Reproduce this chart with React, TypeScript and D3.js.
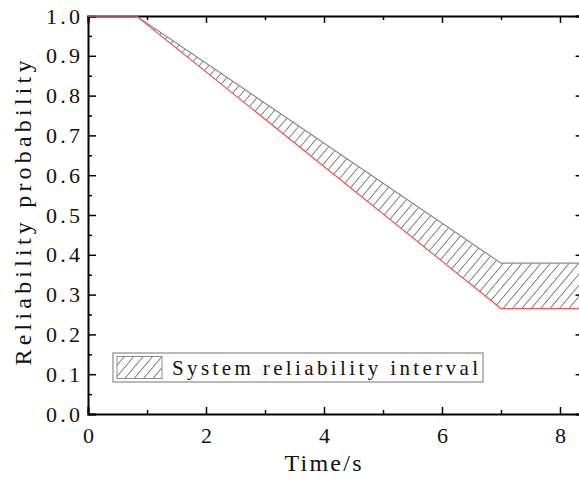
import React, { useEffect, useRef } from "react";
import * as d3 from "d3";

// reliability band
const timePoints = [0, 0.82, 7, 8.4];
const upperBound = [1, 1, 0.379, 0.379];
const lowerBound = [1, 1, 0.265, 0.265];

const xTicks = [0, 2, 4, 6, 8];
const xMinorTicks = [1, 3, 5, 7];
const yTicks = [0, 0.1, 0.2, 0.3, 0.4, 0.5, 0.6, 0.7, 0.8, 0.9, 1.0];
const yMinorTicks = [0.05, 0.15, 0.25, 0.35, 0.45, 0.55, 0.65, 0.75, 0.85, 0.95];
const legendLabel = "System reliability interval";

const width = 579;
const height = 479;
const font = "Liberation Serif, DejaVu Serif, serif";

export default function App() {
  const ref = useRef<SVGSVGElement>(null);

  useEffect(() => {
    const svg = d3.select(ref.current);
    svg.selectAll("*").remove();

    const x = d3.scaleLinear().domain([0, 8.4]).range([88, 583.6]);
    const y = d3.scaleLinear().domain([0, 1]).range([414, 16]);

    const defs = svg.append("defs");
    const pat = defs
      .append("pattern")
      .attr("id", "hatch")
      .attr("patternUnits", "userSpaceOnUse")
      .attr("width", 7.2)
      .attr("height", 10)
      .attr("patternTransform", "rotate(40)");
    pat
      .append("line")
      .attr("x1", 0)
      .attr("y1", 0)
      .attr("x2", 0)
      .attr("y2", 10)
      .attr("stroke", "#333")
      .attr("stroke-width", 1.2);

    svg.append("rect").attr("width", width).attr("height", height).attr("fill", "#fff");

    // hatched band
    const idx = d3.range(timePoints.length);
    const area = d3
      .area<number>()
      .x((i) => x(timePoints[i]))
      .y0((i) => y(lowerBound[i]))
      .y1((i) => y(upperBound[i]));
    svg.append("path").datum(idx).attr("d", area).attr("fill", "url(#hatch)");

    // axes (ticks pointing inward)
    const axisG = svg.append("g");
    const styleAxis = (g: any) => {
      g.selectAll(".domain").attr("stroke", "#000").attr("stroke-width", 2);
      g.selectAll(".tick line").attr("stroke", "#000").attr("stroke-width", 1.5);
      g.selectAll("text")
        .attr("font-family", font)
        .attr("font-size", 22)
        .attr("fill", "#111");
    };

    const bottom = axisG.append("g").attr("transform", `translate(0,${y(0)})`);
    bottom.call(d3.axisBottom(x).tickValues(xTicks).tickSize(-7).tickPadding(13).tickFormat(d3.format("d")));
    bottom
      .append("g")
      .call(d3.axisBottom(x).tickValues(xMinorTicks).tickSize(-4).tickFormat(() => ""))
      .call((g: any) => g.select(".domain").remove());
    styleAxis(bottom);

    const top = axisG.append("g").attr("transform", `translate(0,${y(1)})`);
    top.call(d3.axisTop(x).tickValues(xTicks).tickSize(-7).tickFormat(() => ""));
    top
      .append("g")
      .call(d3.axisTop(x).tickValues(xMinorTicks).tickSize(-4).tickFormat(() => ""))
      .call((g: any) => g.select(".domain").remove());
    styleAxis(top);

    const left = axisG.append("g").attr("transform", `translate(${x(0)},0)`);
    left.call(d3.axisLeft(y).tickValues(yTicks).tickSize(-8).tickPadding(8).tickFormat(d3.format(".1f")));
    left
      .append("g")
      .call(d3.axisLeft(y).tickValues(yMinorTicks).tickSize(-4).tickFormat(() => ""))
      .call((g: any) => g.select(".domain").remove());
    styleAxis(left);
    left.selectAll("text").attr("textLength", 34).attr("lengthAdjust", "spacing");

    const right = axisG.append("g").attr("transform", `translate(${x(8.4)},0)`);
    right.call(d3.axisRight(y).tickValues(yTicks).tickSize(-8).tickFormat(() => ""));
    right
      .append("g")
      .call(d3.axisRight(y).tickValues(yMinorTicks).tickSize(-4).tickFormat(() => ""))
      .call((g: any) => g.select(".domain").remove());
    styleAxis(right);

    // bounds
    const upperLine = d3
      .line<number>()
      .x((i) => x(timePoints[i]))
      .y((i) => y(upperBound[i]));
    const lowerLine = d3
      .line<number>()
      .x((i) => x(timePoints[i]))
      .y((i) => y(lowerBound[i]));
    svg
      .append("path")
      .datum(idx)
      .attr("d", upperLine)
      .attr("fill", "none")
      .attr("stroke", "#8a8a96")
      .attr("stroke-width", 1.2);
    svg
      .append("path")
      .datum(idx)
      .attr("d", lowerLine)
      .attr("fill", "none")
      .attr("stroke", "#ee5a5a")
      .attr("stroke-width", 1.2);

    // axis titles
    svg
      .append("text")
      .attr("x", 323)
      .attr("y", 471)
      .attr("text-anchor", "middle")
      .attr("font-family", font)
      .attr("font-size", 24)
      .attr("fill", "#111")
      .attr("textLength", 77)
      .attr("lengthAdjust", "spacing")
      .text("Time/s");
    svg
      .append("text")
      .attr("transform", "translate(31,213) rotate(-90)")
      .attr("text-anchor", "middle")
      .attr("font-family", font)
      .attr("font-size", 24)
      .attr("fill", "#111")
      .attr("textLength", 305)
      .attr("lengthAdjust", "spacing")
      .text("Reliability probability");

    // legend
    const lg = svg.append("g");
    lg.append("rect")
      .attr("x", 113)
      .attr("y", 353)
      .attr("width", 370)
      .attr("height", 29)
      .attr("fill", "#fff")
      .attr("stroke", "#8c8c8c")
      .attr("stroke-width", 1.2);
    lg.append("rect")
      .attr("x", 117)
      .attr("y", 356.5)
      .attr("width", 45)
      .attr("height", 22)
      .attr("fill", "url(#hatch)")
      .attr("stroke", "#8c8c8c")
      .attr("stroke-width", 1);
    lg.append("text")
      .attr("x", 172)
      .attr("y", 375)
      .attr("font-family", font)
      .attr("font-size", 21)
      .attr("fill", "#111")
      .attr("textLength", 306)
      .attr("lengthAdjust", "spacing")
      .text(legendLabel);
  }, []);

  return (
    <svg
      ref={ref}
      width={width}
      height={height}
      style={{ position: "absolute", left: 0, top: 0, display: "block" }}
    />
  );
}
